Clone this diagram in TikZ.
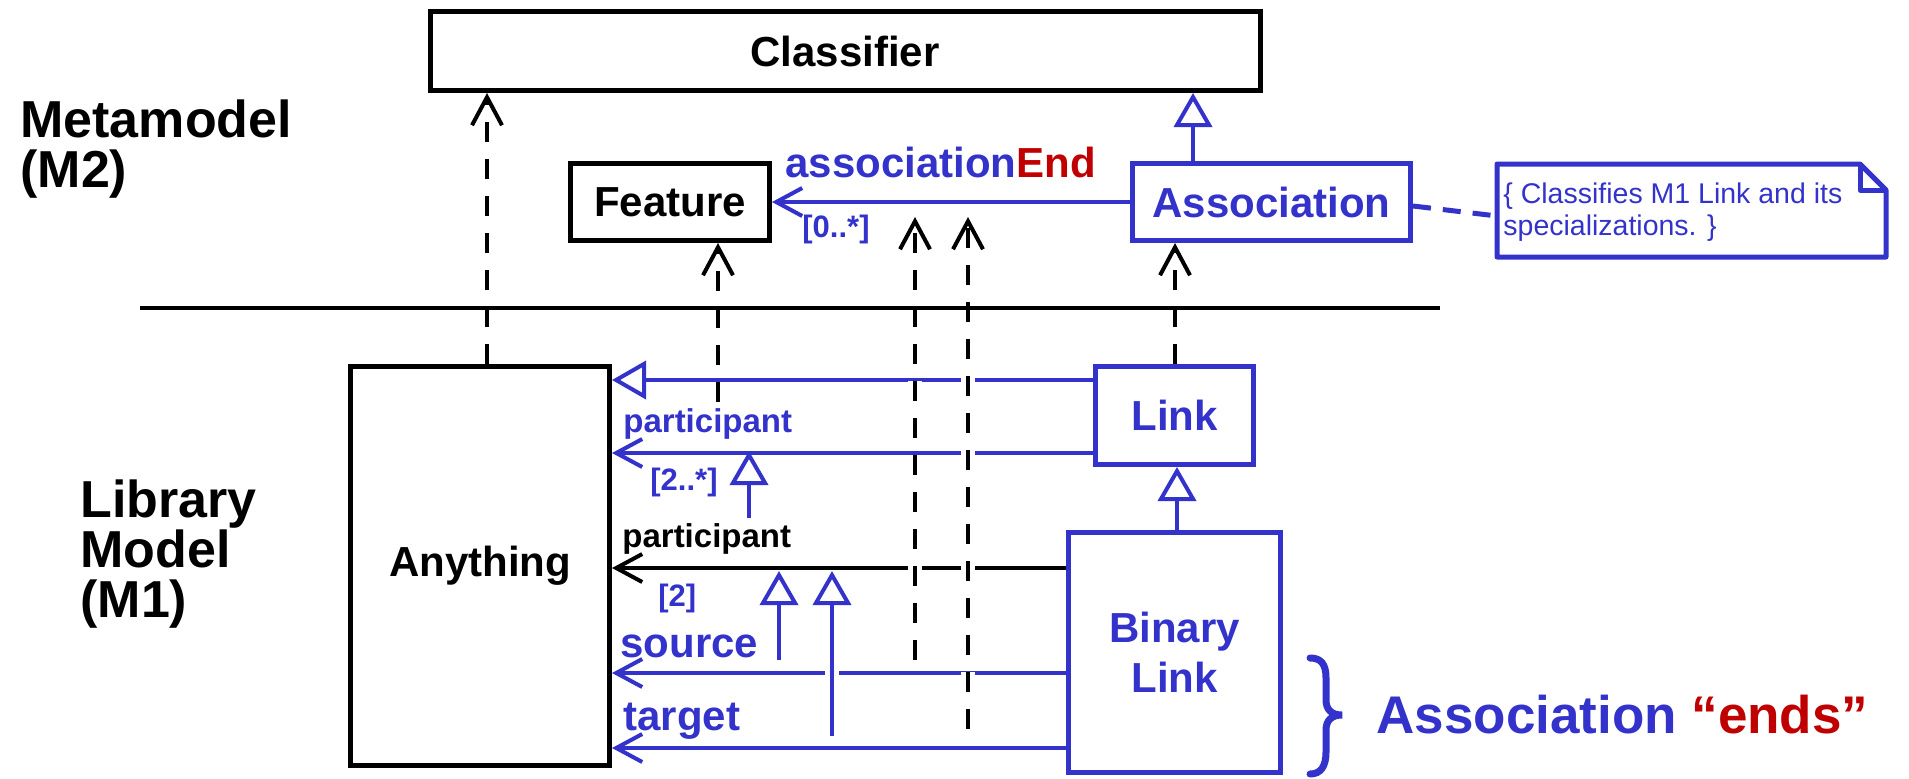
\documentclass[tikz,border=0pt]{standalone}
\usepackage{fontspec}
\setmainfont{Liberation Sans}
\usetikzlibrary{arrows.meta,calc}
\pgfdeclarelayer{bg}
\pgfsetlayers{bg,main}
\definecolor{umlblue}{RGB}{51,51,204}
\definecolor{umlred}{RGB}{192,0,0}

\begin{document}
\begin{tikzpicture}[x=0.5pt,y=-0.5pt,
  box/.style={draw, fill=white, line width=2.5pt, rectangle, inner sep=0pt,
    font=\bfseries\fontsize{21}{25}\selectfont, align=center},
  bluebox/.style={box, draw=umlblue, text=umlblue},
  conn/.style={line width=2pt},
  vee/.style={conn, -{Straight Barb[length=13pt,width=14pt]}},
  gen/.style={conn, -{Triangle[length=17pt,width=19pt,fill=white]}},
  genhalo/.style={gen, preaction={draw=white, line width=7pt, -, shorten >=18pt}},
  dep/.style={line width=2pt, dash pattern=on 10pt off 8.5pt,
    -{Straight Barb[length=14pt,width=15pt]},
    preaction={draw=white, line width=7pt, -, dash pattern=on 10pt off 8.5pt, shorten >=15pt}},
  rolebig/.style={inner sep=0pt, anchor=base west, font=\bfseries\fontsize{21}{25}\selectfont},
  rolesmall/.style={inner sep=0pt, anchor=base west, font=\bfseries\fontsize{16.5}{20}\selectfont},
  mult/.style={inner sep=0pt, anchor=base west, text=umlblue, font=\bfseries\fontsize{15.5}{18}\selectfont},
  levellabel/.style={inner sep=0pt, anchor=base west, align=left, font=\bfseries\fontsize{26}{25}\selectfont},
]
\useasboundingbox (0,0) rectangle (1909,778);

% ---------- metamodel level ----------
\node[box, minimum width=415pt, minimum height=39.5pt] (classifier) at (845,51) {Classifier};
\node[box, minimum width=99.5pt, minimum height=38.5pt] (feature) at (670,202) {Feature};
\node[bluebox, minimum width=139pt, minimum height=38.5pt] (association) at (1271.5,202) {Association};

% constraint note with folded corner (base anchor = last text line)
\node[inner sep=0pt, anchor=base west, align=left, text=umlblue,
  font=\fontsize{14.25}{16}\selectfont] (notetext) at (1503,235)
  {\{ Classifies M1 Link and its\\specializations. \}};
\draw[umlblue, line width=2.5pt, line join=round]
  (1497,164) -- (1860,164) -- (1886,190) -- (1886,257) -- (1497,257) -- cycle;
\draw[umlblue, line width=2.5pt, line join=round] (1860,164) -- (1860,190) -- (1886,190);
\coordinate (noteport) at (1497,216);

% ---------- library model level ----------
\node[box, minimum width=129.5pt, minimum height=199.5pt] (anything) at (480,566) {Anything};
\node[bluebox, minimum width=79pt, minimum height=49pt] (link) at (1174.5,415.5) {Link};
\node[bluebox, minimum width=106pt, minimum height=120pt] (binlink) at (1174.5,652.5) {Binary\\Link};

% level captions (base anchor = last line)
\node[levellabel] (m2label) at (20,187) {Metamodel\\(M2)};
\node[levellabel] (m1label) at (80,617) {Library\\Model\\(M1)};

% association end names and multiplicities
\node[rolebig, text=umlblue] (aeLabel) at (785,177) {association\textcolor{umlred}{End}};
\node[mult] (aeMult) at (802,237) {[0..*]};
\node[rolesmall, text=umlblue] (pLabel) at (623,432) {participant};
\node[mult] (pMult) at (650,490) {[2..*]};
\node[rolesmall] (bpLabel) at (622,547) {participant};
\node[mult] (bpMult) at (658,606) {[2]};
\node[rolebig, text=umlblue] (srcLabel) at (620,657) {source};
\node[rolebig, text=umlblue] (tgtLabel) at (623,730) {target};

\node[inner sep=0pt, anchor=base west, text=umlblue,
  font=\bfseries\fontsize{26.5}{30}\selectfont] (endsLabel) at (1376,733)
  {Association \textcolor{umlred}{“ends”}};

% free ends of the subsetting and instance-of connectors
\coordinate (subP) at (749,518);
\coordinate (subS) at (779,660);
\coordinate (subT) at (832,736);
\coordinate (instP) at (718,402);
\coordinate (instS) at (915,660);
\coordinate (instT) at (968,729);
\coordinate (aeTipS) at (915,217);
\coordinate (aeTipT) at (968,217);
\coordinate (sepL) at (140,308);
\coordinate (sepR) at (1440,308);

\begin{pgfonlayer}{bg}
  % associations and generalizations between classes
  \draw[vee, umlblue] (association.west) -- (feature.east);
  \draw[gen, umlblue] (association.north -| 1193,0) -- (classifier.south -| 1193,0);
  \draw[gen, umlblue] (link.west |- 0,380) -- (anything.east |- 0,380);
  \draw[vee, umlblue] (link.west |- 0,453) -- (anything.east |- 0,453);
  \draw[vee] (binlink.west |- 0,568) -- (anything.east |- 0,568);
  \draw[vee, umlblue] (binlink.west |- 0,673) -- (anything.east |- 0,673);
  \draw[vee, umlblue] (binlink.west |- 0,748) -- (anything.east |- 0,748);
  \draw[gen, umlblue] (binlink.north -| 1177,0) -- (link.south -| 1177,0);

  % note attachment
  \draw[umlblue, line width=2.5pt, dash pattern=on 9pt off 6pt] (association.east |- 0,206) -- (noteport);

  % instance-of dependencies
  \draw[dep] (anything.north -| 487,0) -- (classifier.south -| 487,0);
  \draw[dep] (link.north -| 1175,0) -- (association.south -| 1175,0);
  \draw[dep] (instP) -- (feature.south -| instP);
  \draw[dep] (instS) -- (aeTipS);
  \draw[dep] (instT) -- (aeTipT);

  % end subsetting
  \draw[gen, umlblue] (subP) -- (subP |- 0,451);
  \draw[gen, umlblue] (subS) -- (subS |- 0,571);
  \draw[genhalo, umlblue] (subT) -- (subT |- 0,571);

  % level separator
  \draw[line width=2pt] (sepL) -- (sepR);
\end{pgfonlayer}

% brace grouping the end associations
\draw[umlblue, line width=3.5pt, line cap=round]
  (1310,658) .. controls (1321,658) and (1326,664) .. (1326,678) -- (1326,700)
  .. controls (1326,710) and (1332,715) .. (1342,715)
  .. controls (1332,715) and (1326,720) .. (1326,730) -- (1326,752)
  .. controls (1326,766) and (1321,774) .. (1310,774);
\end{tikzpicture}
\end{document}
